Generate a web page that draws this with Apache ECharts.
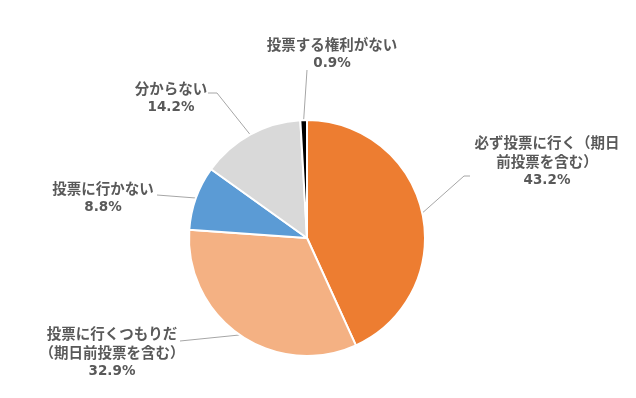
<!DOCTYPE html>
<html>
<head>
<meta charset="utf-8">
<script src="https://cdn.jsdelivr.net/npm/echarts@6/dist/echarts.min.js"></script>
<style>
  html, body { margin: 0; padding: 0; background: #fff; }
  #main { width: 636px; height: 398px; }
</style>
</head>
<body>
<div id="main"></div>
<script>
// 回答の分類と割合（%）
const categories = [
  '必ず投票に行く（期日\n前投票を含む）',
  '投票に行くつもりだ\n（期日前投票を含む）',
  '投票に行かない',
  '分からない',
  '投票する権利がない'
];
const shares = [43.2, 32.9, 8.8, 14.2, 0.9];
const colors = ['#ED7D31', '#F4B183', '#5B9BD5', '#D9D9D9', '#000000'];

// ラベルの置き場所（中心）と引き出し線のラベル側の点
const labelSpots = [[547, 161], [112, 352], [103, 198], [171, 98], [332, 54]];
const guideEnds = [
  [[464, 176], [470, 176]],
  [[180, 341]],
  [[157, 195]],
  [[217, 93], [208, 93]],
  [[307, 70]]
];

const myChart = echarts.init(document.getElementById('main'));
myChart.setOption({
  animation: false,
  series: [
    {
      type: 'pie',
      center: [307, 238],
      radius: 118,
      startAngle: 90,
      clockwise: true,
      data: categories.map((name, i) => ({
        name: name,
        value: shares[i],
        itemStyle: { color: colors[i] }
      })),
      itemStyle: { borderColor: '#fff', borderWidth: 2 },
      label: {
        show: true,
        formatter: p => p.name.split('\n').map(s => '{n|' + s + '}').join('\n') +
          '\n{v|' + p.value.toFixed(1) + '%}',
        color: '#595959',
        fontWeight: 'bold',
        align: 'center',
        rich: {
          n: {
            color: '#595959',
            fontFamily: 'Noto Sans CJK JP',
            fontWeight: 'bold',
            fontSize: 14.5,
            lineHeight: 19
          },
          v: {
            color: '#595959',
            fontFamily: 'DejaVu Sans',
            fontWeight: 'bold',
            fontSize: 13.5,
            lineHeight: 19
          }
        }
      },
      labelLine: {
        show: true,
        lineStyle: { color: '#A6A6A6', width: 1 }
      },
      labelLayout: p => {
        const i = p.dataIndex;
        const pts = [p.labelLinePoints[0]].concat(guideEnds[i]);
        while (pts.length < 3) pts.push(pts[pts.length - 1]);
        return {
          x: labelSpots[i][0],
          y: labelSpots[i][1],
          align: 'center',
          verticalAlign: 'middle',
          labelLinePoints: pts
        };
      },
      emphasis: { disabled: true }
    }
  ]
});
</script>
</body>
</html>
